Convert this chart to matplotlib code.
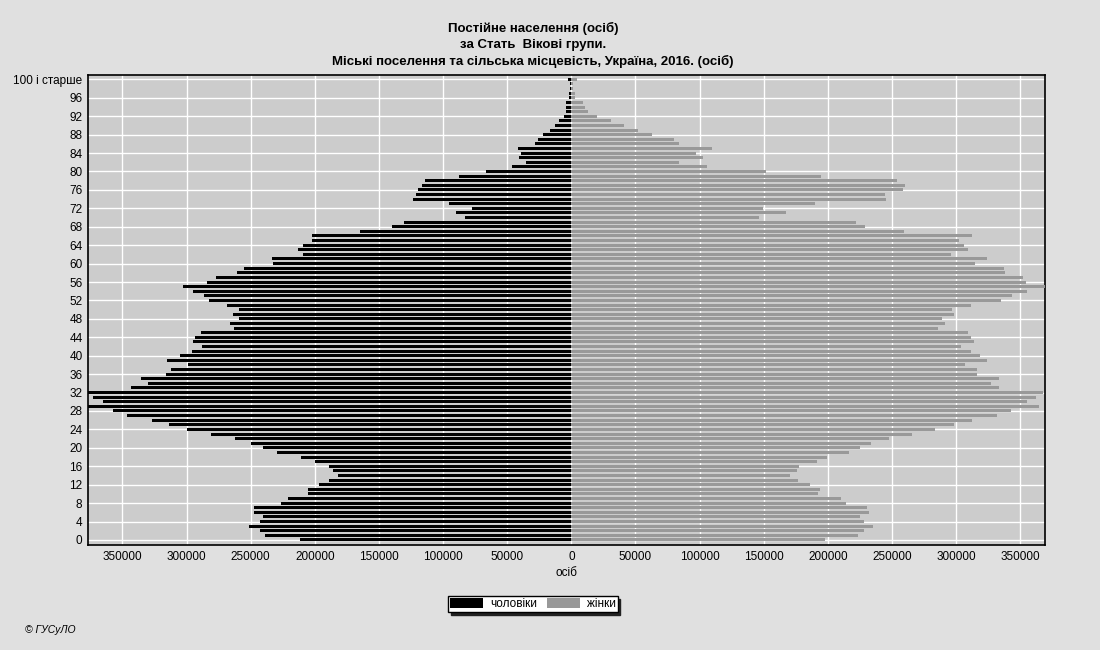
import matplotlib
matplotlib.use("Agg")
import matplotlib.pyplot as plt
from matplotlib.patches import Patch
import numpy as np

plt.rcParams['font.family'] = ['Liberation Sans', 'DejaVu Sans']

# Age groups 0..100 (100 = "100 і старше")
ages = list(range(0, 101))

# Males (чоловіки), ages 0..100
male = [
    211700, 238500, 242900, 251600, 242900, 240200, 247800, 247300, 226500, 221000,  # 0-9
    205700, 205700, 196400, 188700, 181600, 186000, 188700, 200200, 210600, 229200,  # 10-19
    240200, 249500, 262600, 281200, 299800, 314000, 327100, 346800, 357700, 376900,  # 20-29
    365400, 373100, 376900, 343500, 329900, 335900, 316200, 311800, 299200, 315100,  # 30-39
    305300, 296000, 288300, 295400, 293200, 288900, 263100, 265900, 259300, 264200,  # 40-49
    259300, 268600, 282800, 286700, 295400, 302500, 284000, 277400, 260400, 255000,  # 50-59
    233000, 233600, 209000, 213350, 209500, 202400, 201900, 165200, 140000, 130200,  # 60-69
    82600, 90300, 77700, 95700, 123600, 120900, 119300, 116500, 114300, 88000,       # 70-79
    66700, 46500, 35500, 40500, 39000, 42000, 28000, 26000, 22000, 17000,            # 80-89
    13000, 9300, 6000, 4400, 4400, 4400, 2000, 2000, 1000, 1000,                     # 90-99
    2700,                                                                             # 100+
]

# Females (жінки), ages 0..100
female = [
    197500, 223700, 228100, 235200, 228100, 225400, 231900, 230800, 213900, 210100,  # 0-9
    192600, 194200, 186000, 176700, 170100, 175600, 177800, 191500, 199100, 216100,  # 10-19
    224800, 233600, 247300, 265900, 283900, 298200, 312400, 331500, 342400, 364300,  # 20-29
    355000, 362100, 367600, 333700, 327100, 333700, 316200, 316200, 306900, 323900,  # 30-39
    319000, 311300, 303600, 314000, 311300, 309100, 285600, 291000, 288900, 298200,  # 40-49
    297100, 311300, 334800, 343500, 355600, 369300, 354500, 351800, 338100, 337000,  # 50-59
    315100, 323900, 296000, 309100, 305800, 302000, 312400, 259300, 228700, 221600,  # 60-69
    146100, 167400, 149300, 189800, 245100, 244500, 258200, 259800, 253800, 194700,  # 70-79
    151500, 105600, 84000, 103000, 97000, 110000, 84000, 80000, 63000, 52000,        # 80-89
    41000, 31000, 19700, 13000, 10400, 9300, 3000, 3000, 1500, 1500,                 # 90-99
    4400,                                                                             # 100+
]

x_ticks = [-350000, -300000, -250000, -200000, -150000, -100000, -50000, 0,
           50000, 100000, 150000, 200000, 250000, 300000, 350000]
y_ticks = list(range(0, 97, 4)) + [100]
y_tick_labels = [str(v) for v in range(0, 97, 4)] + ["100 і старше"]

title_lines = ["Постійне населення (осіб)",
               "за Стать  Вікові групи.",
               "Міські поселення та сільська місцевість, Україна, 2016. (осіб)"]
legend_labels = ["чоловіки", "жінки"]

fig_bg = "#e0e0e0"
ax_bg = "#cccccc"
male_color = "#000000"
female_color = "#999999"

fig = plt.figure(figsize=(11, 6.5), dpi=100, facecolor=fig_bg)
ax = fig.add_axes([88/1100, 1-545/650, (1045-88)/1100, (545-75)/650])
ax.set_facecolor(ax_bg)

ax.barh(ages, [-m for m in male], height=0.65, color=male_color, zorder=3)
ax.barh(ages, female, height=0.65, color=female_color, zorder=3)

ax.set_xlim(-max(male), max(female))
ax.set_ylim(-1.1, 100.95)

ax.set_xticks(x_ticks)
ax.set_xticklabels([str(abs(v)) for v in x_ticks], fontsize=8.5)
ax.set_yticks(y_ticks)
ax.set_yticklabels(y_tick_labels, fontsize=8.5)
ax.tick_params(length=0, pad=4)
ax.grid(True, color="white", linewidth=1.0, zorder=1)
ax.set_axisbelow(True)
for s in ax.spines.values():
    s.set_color("black")
    s.set_linewidth(1.2)

ax.set_xlabel("осіб", fontsize=8.5, labelpad=3)

ys = [28, 45, 61]
for line, yy in zip(title_lines, ys):
    fig.text(533/1100, 1-yy/650, line, ha="center", va="center",
             fontsize=9.5, fontweight="bold")

handles = [Patch(facecolor=male_color, edgecolor="none"),
           Patch(facecolor=female_color, edgecolor="none")]
leg = fig.legend(handles, legend_labels, loc="center", ncol=2,
                 bbox_to_anchor=(533/1100, 1-604/650), fontsize=8.5,
                 frameon=True, fancybox=False, shadow={'color': '#222222', 'alpha': 1.0},
                 edgecolor="black", facecolor="white", framealpha=1.0,
                 handlelength=2.8, handleheight=0.9, borderpad=0.15,
                 columnspacing=0.8, handletextpad=0.6)
leg.get_frame().set_linewidth(1.0)

fig.text(25/1100, 1-630/650, "© ГУСуЛО", ha="left", va="center",
         fontsize=7.5, fontstyle="italic")

fig.savefig("out.png", dpi=100, facecolor=fig_bg)
